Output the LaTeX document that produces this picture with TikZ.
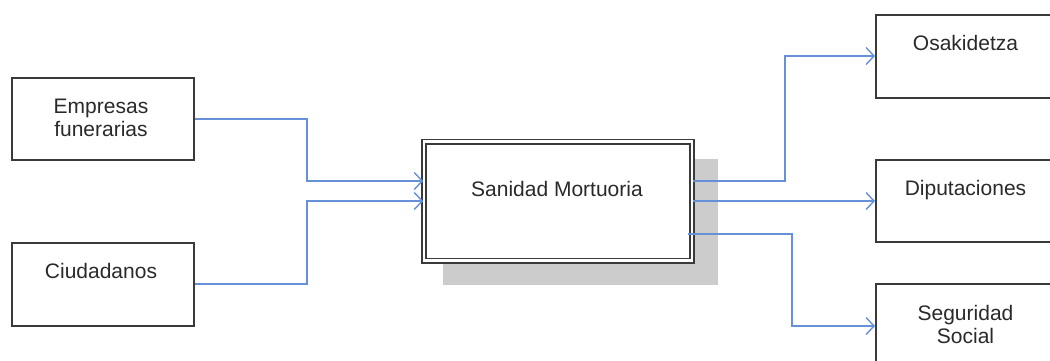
\documentclass[tikz,border=0pt]{standalone}
\usepackage{fontspec}
\setmainfont{Liberation Sans}
\usetikzlibrary{arrows.meta}
\definecolor{linkblue}{HTML}{6690D8}
\definecolor{boxgray}{HTML}{3A3A3A}
\definecolor{shadowgray}{HTML}{CCCCCC}
\definecolor{textgray}{HTML}{2A2A2A}
\begin{document}
\begin{tikzpicture}[x=1pt,y=-1pt,
  box/.style={draw=boxgray, line width=2pt, fill=white, inner sep=0pt},
  mainbox/.style={draw=boxgray, line width=1.6pt, double=white, double distance=2.8pt, fill=white, inner sep=0pt},
  label/.style={font=\fontsize{21}{23}\selectfont, text=textgray, align=center, inner sep=0pt},
  link/.style={draw=linkblue, line width=1.8pt, -{Straight Barb[length=8pt,width=17pt,line width=1.4pt]}}
]
\useasboundingbox (0,0) rectangle (1050,360);
\fill[white] (0,0) rectangle (1050,360);

% shadow of the main box
\fill[shadowgray] (443,159) rectangle (718,285);

% boxes
\node[box, minimum width=182pt, minimum height=82pt] (emp) at (103,119) {};
\node[box, minimum width=182pt, minimum height=83pt] (ciu) at (103,284) {};
\node[mainbox, minimum width=268pt, minimum height=119pt] (san) at (558,201) {};
\node[box, minimum width=179pt, minimum height=83pt] (osa) at (965.5,56) {};
\node[box, minimum width=179pt, minimum height=82pt] (dip) at (965.5,201) {};
\node[box, minimum width=179pt, minimum height=84pt] (seg) at (965.5,326) {};

% texts
\node[label, anchor=base] (tEmp) at (101,136) {Empresas\\funerarias};
\node[label, anchor=base] (tCiu) at (101,278) {Ciudadanos};
\node[label, anchor=base] (tSan) at (557,196) {Sanidad Mortuoria};
\node[label, anchor=base] (tOsa) at (965.5,50) {Osakidetza};
\node[label, anchor=base] (tDip) at (965.5,195) {Diputaciones};
\node[label, anchor=base] (tSeg) at (965.5,343) {Seguridad\\Social};

% junction columns
\coordinate (jl) at (307,0);
\coordinate (jr1) at (785,0);
\coordinate (jr3) at (792,0);

% connectors
\draw[link] (emp.east) -- (emp.east -| jl) |- ([yshift=20pt]san.west);
\draw[link] (ciu.east) -- (ciu.east -| jl) |- (san.west);
\draw[link] ([yshift=20pt]san.east) -| (jr1 |- osa.west) -- (osa.west);
\draw[link] (san.east) -- (san.east -| dip.west);
\draw[link] ([xshift=-5pt,yshift=-33pt]san.east) -| (jr3 |- seg.west) -- (seg.west);
\end{tikzpicture}
\end{document}
